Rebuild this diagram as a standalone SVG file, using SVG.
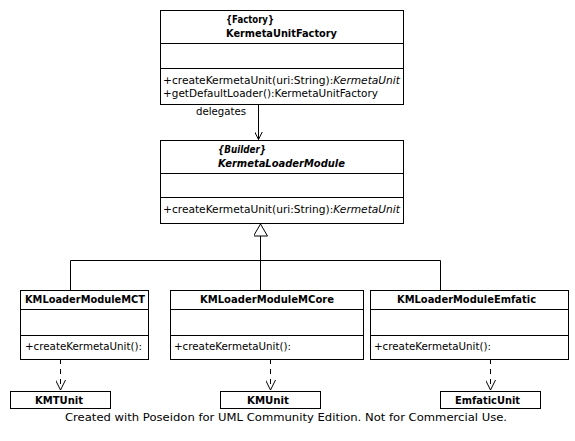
<svg xmlns="http://www.w3.org/2000/svg" width="575" height="441" viewBox="0 0 575 441">
<style>
.box{fill:#fff;stroke:#000;stroke-width:1}
.ln{stroke:#000;stroke-width:1;fill:none}
.dash{stroke:#000;stroke-width:1;fill:none;stroke-dasharray:5,5}
text{font-family:"DejaVu Sans","Liberation Sans",sans-serif;font-size:10px;fill:#000}
.b{font-weight:bold}
.i{font-style:italic}
.c{text-anchor:middle}
</style>
<defs>
<marker id="open" viewBox="0 0 10 10" refX="10" refY="5" markerWidth="10" markerHeight="10" markerUnits="userSpaceOnUse" orient="auto"><path d="M0,0 L10,5 L0,10" fill="none" stroke="#000" stroke-width="1"/></marker>
<marker id="open2" viewBox="0 0 8 8" refX="8" refY="4" markerWidth="8" markerHeight="8" markerUnits="userSpaceOnUse" orient="auto"><path d="M0,0 L8,4 L0,8" fill="none" stroke="#000" stroke-width="1"/></marker>
<marker id="tri" viewBox="0 0 14 14" refX="13" refY="7" markerWidth="14" markerHeight="14" markerUnits="userSpaceOnUse" orient="auto"><path d="M1,0 L13,7 L1,14 Z" fill="#fff" stroke="#000" stroke-width="1"/></marker>
</defs>
<rect width="575" height="441" fill="#fff"/>
<g id="connectors">
<path class="ln" d="M258.5,104 V139.5" marker-end="url(#open2)"/>
<text x="196" y="115" textLength="50" lengthAdjust="spacingAndGlyphs">delegates</text>
<path class="ln" d="M70.5,290 V260.5 H440.5 V290 M260.5,290 V236"/>
<path class="ln" d="M260.5,237 V224" marker-end="url(#tri)"/>
<path class="dash" d="M60.5,359 V390" marker-end="url(#open)"/>
<path class="dash" d="M270.5,359 V390" marker-end="url(#open)"/>
<path class="dash" d="M490.5,359 V390" marker-end="url(#open)"/>
</g>
<g id="KermetaUnitFactory">
<rect class="box" x="160.5" y="10.5" width="243" height="94"/>
<path class="ln" d="M160.5,43.5 H403.5 M160.5,68.5 H403.5"/>
<text class="b" x="226" y="23" textLength="48" lengthAdjust="spacingAndGlyphs">{Factory}</text>
<text class="b" x="226" y="37" textLength="111" lengthAdjust="spacingAndGlyphs">KermetaUnitFactory</text>
<text x="163" y="84" textLength="237" lengthAdjust="spacingAndGlyphs">+createKermetaUnit(uri:String):<tspan class="i">KermetaUnit</tspan></text>
<text x="163" y="97" textLength="215" lengthAdjust="spacingAndGlyphs">+getDefaultLoader():KermetaUnitFactory</text>
</g>
<g id="KermetaLoaderModule">
<rect class="box" x="160.5" y="140.5" width="243" height="83"/>
<path class="ln" d="M160.5,173.5 H403.5 M160.5,197.5 H403.5"/>
<text class="b i" x="218" y="153" textLength="48" lengthAdjust="spacingAndGlyphs">{Builder}</text>
<text class="b i" x="218" y="167" textLength="127" lengthAdjust="spacingAndGlyphs">KermetaLoaderModule</text>
<text x="163" y="213" textLength="237" lengthAdjust="spacingAndGlyphs">+createKermetaUnit(uri:String):<tspan class="i">KermetaUnit</tspan></text>
</g>
<g id="KMLoaderModuleMCT">
<rect class="box" x="20.5" y="290.5" width="128" height="69"/>
<path class="ln" d="M20.5,309.5 H148.5 M20.5,335.5 H148.5"/>
<text class="b" x="25" y="303" textLength="120" lengthAdjust="spacingAndGlyphs">KMLoaderModuleMCT</text>
<text x="25" y="350" textLength="117" lengthAdjust="spacingAndGlyphs">+createKermetaUnit():</text>
</g>
<g id="KMLoaderModuleMCore">
<rect class="box" x="170.5" y="290.5" width="193" height="69"/>
<path class="ln" d="M170.5,309.5 H363.5 M170.5,335.5 H363.5"/>
<text class="b" x="200" y="303" textLength="134" lengthAdjust="spacingAndGlyphs">KMLoaderModuleMCore</text>
<text x="174" y="350" textLength="117" lengthAdjust="spacingAndGlyphs">+createKermetaUnit():</text>
</g>
<g id="KMLoaderModuleEmfatic">
<rect class="box" x="370.5" y="290.5" width="198" height="69"/>
<path class="ln" d="M370.5,309.5 H568.5 M370.5,335.5 H568.5"/>
<text class="b" x="397" y="303" textLength="139" lengthAdjust="spacingAndGlyphs">KMLoaderModuleEmfatic</text>
<text x="374" y="350" textLength="117" lengthAdjust="spacingAndGlyphs">+createKermetaUnit():</text>
</g>
<g id="KMTUnit">
<rect class="box" x="10.5" y="391.5" width="100" height="17"/>
<text class="b" x="35" y="404" textLength="48" lengthAdjust="spacingAndGlyphs">KMTUnit</text>
</g>
<g id="KMUnit">
<rect class="box" x="220.5" y="391.5" width="100" height="17"/>
<text class="b" x="247" y="404" textLength="42" lengthAdjust="spacingAndGlyphs">KMUnit</text>
</g>
<g id="EmfaticUnit">
<rect class="box" x="440.5" y="391.5" width="100" height="17"/>
<text class="b" x="455" y="404" textLength="65" lengthAdjust="spacingAndGlyphs">EmfaticUnit</text>
</g>
<text x="65" y="421" textLength="442" lengthAdjust="spacingAndGlyphs">Created with Poseidon for UML Community Edition. Not for Commercial Use.</text>
</svg>
